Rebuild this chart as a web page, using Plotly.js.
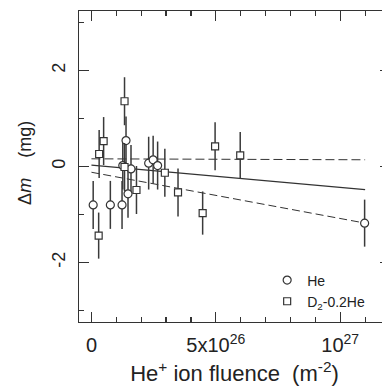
<!DOCTYPE html>
<html>
<head>
<meta charset="utf-8">
<script src="https://cdn.plot.ly/plotly-3.0.1.min.js"></script>
<style>
html,body{margin:0;padding:0;overflow:hidden;background:#fff;}
#chart{width:400px;height:386px;}
</style>
</head>
<body>
<div id="chart"></div>
<script>
// He series (fluence in m^-2, mass change in mg)
const heFluence = [0.07e26, 0.76e26, 1.23e26, 1.47e26, 1.26e26, 1.59e26, 1.39e26, 2.30e26, 2.48e26, 2.66e26, 10.98e26];
const heDm      = [-0.80, -0.80, -0.80, -0.57, 0.02, -0.05, 0.54, 0.07, 0.14, 0.02, -1.18];
const heErr     = [0.50, 0.50, 0.50, 0.50, 0.50, 0.50, 0.50, 0.55, 0.50, 0.50, 0.49];

// D2-0.2He series
const dFluence = [0.31e26, 0.29e26, 0.49e26, 1.33e26, 1.33e26, 1.81e26, 2.95e26, 3.48e26, 4.47e26, 4.97e26, 5.98e26];
const dDm      = [0.26, -1.44, 0.53, 1.36, -0.01, -0.49, -0.13, -0.54, -0.97, 0.42, 0.23];
const dErr     = [0.50, 0.48, 0.50, 0.50, 0.50, 0.50, 0.50, 0.50, 0.45, 0.50, 0.49];

// fit lines
const fitX       = [0, 1.1e27];
const fitSolidY  = [0.03, -0.48];
const fitUpperY  = [0.16, 0.14];
const fitLowerY  = [-0.12, -1.18];

// axis ticks and titles
const xTickVals = [0, 5e26, 1e27];
const xTickText = ['0', '5x10<sup>26</sup>', '10<sup>27</sup>'];
const yTickVals = [-2, 0, 2];
const yTickText = ['-2', '0', '2'];
const xTitle = 'He<sup>+</sup> ion fluence\u00a0\u00a0(m<sup>-2</sup>)';
const yTitle = '\u0394<i>m</i>\u00a0\u00a0\u00a0\u00a0(mg)';

const ink = '#333';
const font = 'Liberation Sans, Arial, Helvetica, sans-serif';

const traces = [
  {x: fitX, y: fitSolidY, mode: 'lines', line: {color: ink, width: 1.3}, showlegend: false, hoverinfo: 'skip'},
  {x: fitX, y: fitUpperY, mode: 'lines', line: {color: ink, width: 1, dash: '9px,4px'}, showlegend: false, hoverinfo: 'skip'},
  {x: fitX, y: fitLowerY, mode: 'lines', line: {color: ink, width: 1, dash: '8px,4px'}, showlegend: false, hoverinfo: 'skip'},
  {x: heFluence, y: heDm, name: 'He', mode: 'markers',
   marker: {symbol: 'circle', size: 8, color: '#fff', line: {color: ink, width: 1.2}},
   error_y: {type: 'data', array: heErr, visible: true, color: '#3a3a3a', thickness: 1.5, width: 0}},
  {x: dFluence, y: dDm, name: 'D<sub>2</sub>-0.2He', mode: 'markers',
   marker: {symbol: 'square', size: 7, color: '#fff', line: {color: ink, width: 1.2}},
   error_y: {type: 'data', array: dErr, visible: true, color: '#3a3a3a', thickness: 1.5, width: 0}}
];

const layout = {
  width: 400, height: 386,
  margin: {l: 78.5, r: 10, t: 10.7, b: 64},
  paper_bgcolor: '#fff', plot_bgcolor: '#fff',
  font: {family: font, color: '#222'},
  showlegend: true,
  legend: {x: 0.605, y: 0.185, xanchor: 'left', yanchor: 'top', bgcolor: 'rgba(0,0,0,0)',
           font: {size: 14, family: font, color: '#222'}},
  xaxis: {
    range: [-0.05e27, 1.2e27], showgrid: false, zeroline: false,
    showline: true, linecolor: ink, linewidth: 1.3, mirror: 'ticks',
    ticks: 'inside', ticklen: 10, tickwidth: 1.2, tickcolor: ink,
    tickmode: 'array', tickvals: xTickVals, ticktext: xTickText,
    ticklabelstandoff: 5,
    tickfont: {size: 20, family: font, color: '#222'},
    minor: {dtick: 1e26, ticklen: 5, tickwidth: 1.2, tickcolor: ink, ticks: 'inside'},
    title: {text: xTitle, font: {size: 22, family: font, color: '#222'}}
  },
  yaxis: {
    range: [-3.24, 3.24], showgrid: false, zeroline: false,
    showline: true, linecolor: ink, linewidth: 1.3, mirror: 'ticks',
    ticks: 'inside', ticklen: 10, tickwidth: 1.2, tickcolor: ink,
    tickmode: 'array', tickvals: yTickVals, ticktext: yTickText, tickangle: -90,
    ticklabelstandoff: 6,
    tickfont: {size: 18, family: font, color: '#222'},
    minor: {dtick: 1, ticklen: 5, tickwidth: 1.2, tickcolor: ink, ticks: 'inside'}
  },
  annotations: [{
    text: yTitle, xref: 'paper', yref: 'paper', x: -0.172, y: 0.51,
    xanchor: 'center', yanchor: 'middle', textangle: -90, showarrow: false,
    font: {size: 18, family: font, color: '#222'}
  }]
};

Plotly.newPlot('chart', traces, layout, {staticPlot: true, displayModeBar: false});
</script>
</body>
</html>
